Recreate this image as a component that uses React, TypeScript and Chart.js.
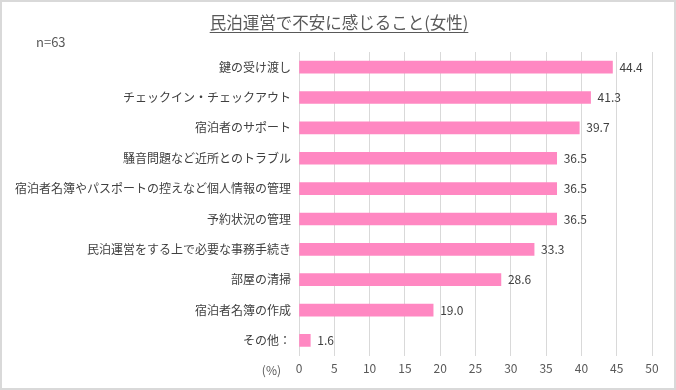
import React, { useEffect, useRef } from "react";
import { Chart, registerables } from "chart.js";

Chart.register(...registerables);

const categories = [
  "鍵の受け渡し",
  "チェックイン・チェックアウト",
  "宿泊者のサポート",
  "騒音問題など近所とのトラブル",
  "宿泊者名簿やパスポートの控えなど個人情報の管理",
  "予約状況の管理",
  "民泊運営をする上で必要な事務手続き",
  "部屋の清掃",
  "宿泊者名簿の作成",
  "その他：",
];
const values = [44.4, 41.3, 39.7, 36.5, 36.5, 36.5, 33.3, 28.6, 19.0, 1.6];
const titleText = "民泊運営で不安に感じること(女性)";
const noteText = "n=63";
const unitText = "(%)";

const FONT = "'Noto Sans CJK JP', 'Noto Sans', sans-serif";

export default function App() {
  const ref = useRef<HTMLCanvasElement>(null);
  useEffect(() => {
    document.body.style.margin = "0";
    const deco = {
      id: "deco",
      beforeDraw(chart: any) {
        const { ctx, width, height } = chart;
        ctx.save();
        ctx.fillStyle = "#ffffff";
        ctx.fillRect(0, 0, width, height);
        ctx.restore();
      },
      afterDraw(chart: any) {
        const { ctx, width, height, chartArea } = chart;
        ctx.save();
        ctx.strokeStyle = "#d9d9d9";
        ctx.lineWidth = 2;
        ctx.strokeRect(1, 1, width - 2, height - 2);
        ctx.fillStyle = "#595959";
        ctx.font = `16.5px ${FONT}`;
        ctx.textAlign = "center";
        ctx.textBaseline = "alphabetic";
        const tx = 339;
        const ty = 29;
        ctx.fillText(titleText, tx, ty);
        const w = ctx.measureText(titleText).width;
        ctx.strokeStyle = "#595959";
        ctx.lineWidth = 1;
        ctx.beginPath();
        ctx.moveTo(tx - w / 2, ty + 3.5);
        ctx.lineTo(tx + w / 2, ty + 3.5);
        ctx.stroke();
        ctx.font = `13px ${FONT}`;
        ctx.textAlign = "left";
        ctx.textBaseline = "middle";
        ctx.fillText(noteText, 36, 42);
        ctx.font = `12px ${FONT}`;
        ctx.textAlign = "right";
        ctx.fillText(unitText, 281, chartArea.bottom + 15);
        // data labels
        const meta = chart.getDatasetMeta(0);
        ctx.fillStyle = "#404040";
        ctx.textAlign = "left";
        meta.data.forEach((bar: any, i: number) => {
          ctx.fillText(values[i].toFixed(1), bar.x + 7, bar.y);
        });
        ctx.restore();
      },
    };
    const chart = new Chart(ref.current!, {
      type: "bar",
      data: {
        labels: categories,
        datasets: [
          {
            data: values,
            backgroundColor: "#ff88c2",
            barThickness: 12,
          },
        ],
      },
      options: {
        indexAxis: "y",
        animation: false,
        responsive: false,
        layout: { padding: { top: 52, right: 24, left: 0, bottom: 8 } },
        plugins: { legend: { display: false }, tooltip: { enabled: false } },
        scales: {
          x: {
            min: 0,
            max: 50,
            ticks: { stepSize: 5, color: "#595959", font: { family: FONT, size: 12 }, padding: 6 },
            grid: { color: "#d9d9d9", drawTicks: false },
            border: { display: false },
          },
          y: {
            ticks: { color: "#404040", font: { family: FONT, size: 12 }, padding: 8 },
            grid: { display: false, drawTicks: false },
            border: { display: true, color: "#d9d9d9" },
            afterFit(scale: any) {
              scale.width = 299;
            },
          },
        },
      },
      plugins: [deco],
    });
    return () => chart.destroy();
  }, []);
  return <canvas ref={ref} width={676} height={390} style={{ display: "block" }} />;
}
